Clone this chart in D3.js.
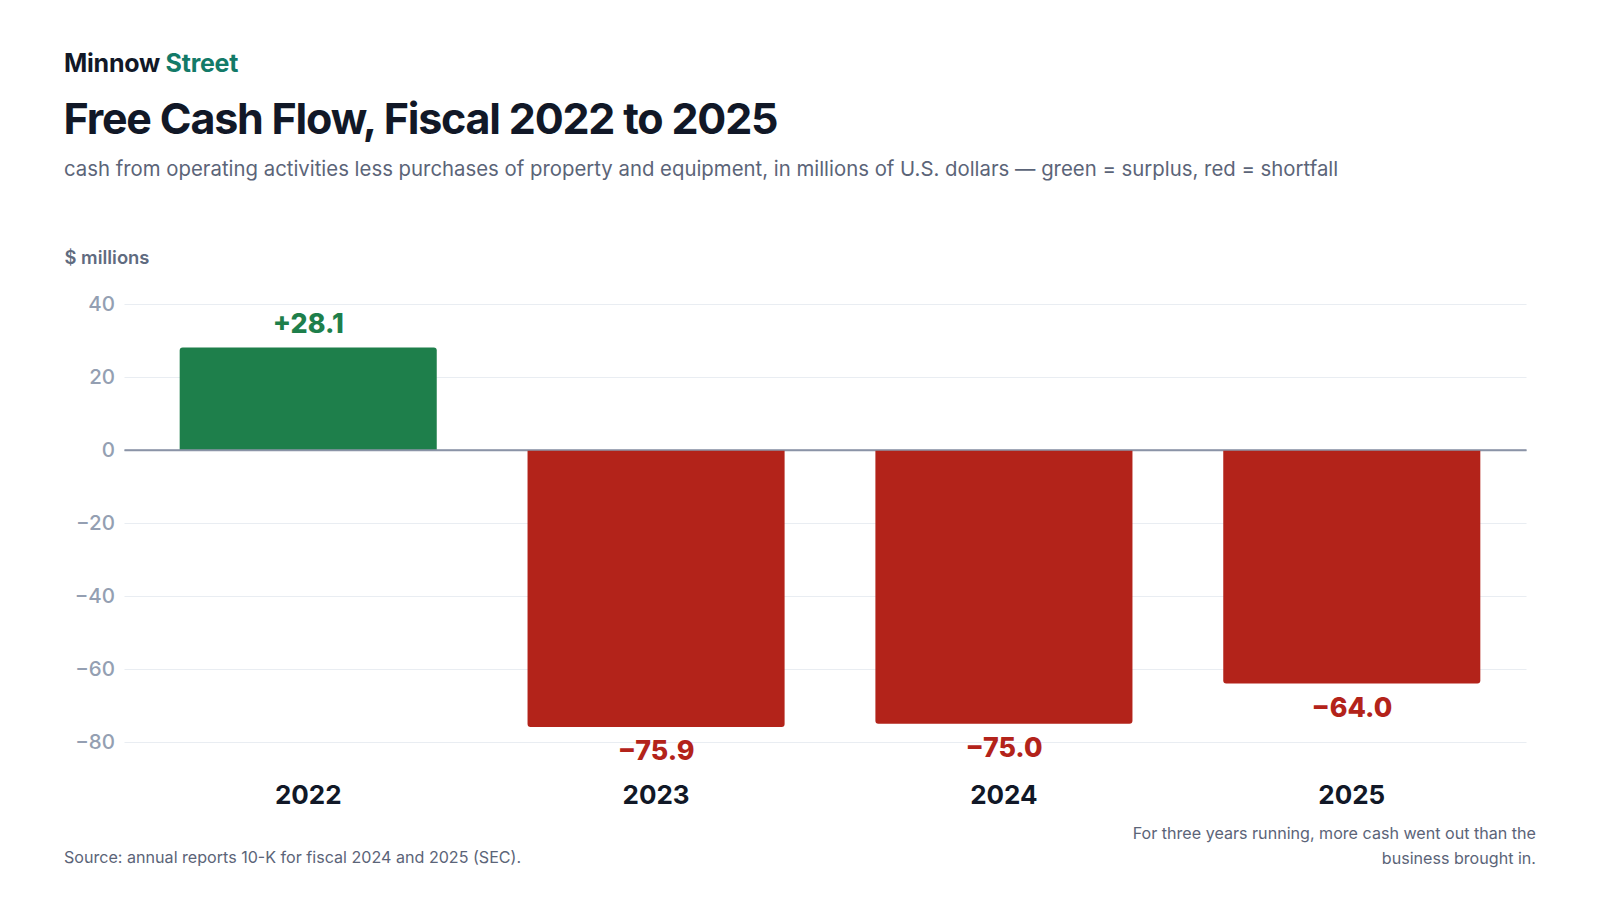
<!DOCTYPE html>
<html>
<head>
<meta charset="utf-8">
<script src="https://cdn.jsdelivr.net/npm/d3@7"></script>
<style>
  body { margin: 0; background: #fff; }
  svg { display: block; font-family: Inter, "Noto Sans", sans-serif; }
</style>
</head>
<body>
<div id="chart"></div>
<script>
// data
const years = ['2022', '2023', '2024', '2025']
const freeCashFlow = [28.1, -75.9, -75.0, -64.0]
const yTicks = [40, 20, 0, -20, -40, -60, -80]

const W = 1600, H = 900
const PLOT = { LEFT: 124.5, RIGHT: 1526.5, TOP: 304, BOTTOM: 742 }

const svg = d3.select('#chart').append('svg')
    .attr('width', W)
    .attr('height', H)

// header
const brand = svg.append('text')
    .attr('x', 64).attr('y', 71.5)
    .attr('font-size', 25).attr('font-weight', 700)
    .attr('letter-spacing', '-0.25')
    .attr('fill', '#111827')
brand.append('tspan').text('Minnow ')
brand.append('tspan').attr('fill', '#137a68').text('Street')

svg.append('text')
    .attr('x', 63.5).attr('y', 134)
    .attr('font-size', 43).attr('font-weight', 700)
    .attr('letter-spacing', '-1.2')
    .attr('fill', '#111827')
    .text('Free Cash Flow, Fiscal 2022 to 2025')

svg.append('text')
    .attr('x', 64).attr('y', 175.5)
    .attr('font-size', 20.35)
    .attr('fill', '#5b6478')
    .text('cash from operating activities less purchases of property and equipment, in millions of U.S. dollars — green = surplus, red = shortfall')

svg.append('text')
    .attr('x', 64.5).attr('y', 264)
    .attr('font-size', 18.4).attr('font-weight', 600)
    .attr('fill', '#5f6b80')
    .text('$ millions')

// scales
const y = d3.scaleLinear()
    .domain([-80, 40])
    .range([PLOT.BOTTOM, PLOT.TOP])

const x = d3.scaleBand()
    .domain(years)
    .range([127.5, 1532.5])
    .paddingInner(0.261)
    .paddingOuter(0.15)

// gridlines + y axis labels
const yAxis = svg.append('g')
    .attr('transform', `translate(${PLOT.LEFT}, 0)`)
    .call(d3.axisLeft(y)
        .tickValues(yTicks)
        .tickSize(-(PLOT.RIGHT - PLOT.LEFT))
        .tickPadding(9.5)
        .tickFormat(d => d3.format('d')(d).replace('-', '\u2212')))
yAxis.select('.domain').remove()
yAxis.selectAll('.tick line')
    .attr('stroke', d => d === 0 ? '#8b95a7' : '#e9edf2')
    .attr('stroke-width', d => d === 0 ? 1.5 : 1.2)
yAxis.selectAll('.tick text')
    .attr('font-size', 20.5)
    .attr('font-weight', 500)
    .attr('font-family', 'Inter, sans-serif')
    .attr('fill', '#949fb2')

const data = years.map((yr, i) => ({ year: yr, value: freeCashFlow[i] }))
const color = v => v >= 0 ? '#1e7f4b' : '#b3231a'

// bars
svg.append('g').selectAll('path')
    .data(data)
    .join('path')
    .attr('fill', d => color(d.value))
    .attr('d', d => {
        const x0 = x(d.year), w = x.bandwidth()
        const y0 = y(0), y1 = y(d.value), r = 3
        const s = d.value >= 0 ? 1 : -1
        return `M${x0},${y0} L${x0},${y1 + s * r} Q${x0},${y1} ${x0 + r},${y1} ` +
            `L${x0 + w - r},${y1} Q${x0 + w},${y1} ${x0 + w},${y1 + s * r} L${x0 + w},${y0} Z`
    })

// redraw zero line above bars
svg.append('line')
    .attr('x1', PLOT.LEFT).attr('x2', PLOT.RIGHT)
    .attr('y1', y(0)).attr('y2', y(0))
    .attr('stroke', '#8b95a7')
    .attr('stroke-width', 1.5)

// value labels
svg.append('g').selectAll('text')
    .data(data)
    .join('text')
    .attr('x', d => x(d.year) + x.bandwidth() / 2)
    .attr('y', d => d.value >= 0 ? y(d.value) - 14 : y(d.value) + 33)
    .attr('text-anchor', 'middle')
    .attr('font-size', 26.8).attr('font-weight', 800)
    .attr('fill', d => color(d.value))
    .text(d => (d.value >= 0 ? '+' : '\u2212') + Math.abs(d.value).toFixed(1))

// x axis labels
const xAxis = svg.append('g')
    .attr('transform', `translate(0, ${PLOT.BOTTOM})`)
    .call(d3.axisBottom(x).tickSize(0).tickPadding(62))
xAxis.select('.domain').remove()
xAxis.selectAll('.tick text')
    .attr('font-size', 26)
    .attr('font-weight', 700)
    .attr('font-family', 'Inter, sans-serif')
    .attr('fill', '#111827')
    .attr('dy', 0)

// footer
svg.append('text')
    .attr('x', 64).attr('y', 863)
    .attr('font-size', 16.1)
    .attr('fill', '#5b6478')
    .text('Source: annual reports 10-K for fiscal 2024 and 2025 (SEC).')

svg.append('text')
    .attr('x', 1536).attr('y', 839)
    .attr('text-anchor', 'end')
    .attr('font-size', 16.1)
    .attr('fill', '#5b6478')
    .selectAll('tspan')
    .data(['For three years running, more cash went out than the', 'business brought in.'])
    .join('tspan')
    .attr('x', 1536)
    .attr('dy', (d, i) => i ? 24.5 : 0)
    .text(d => d)
</script>
</body>
</html>
